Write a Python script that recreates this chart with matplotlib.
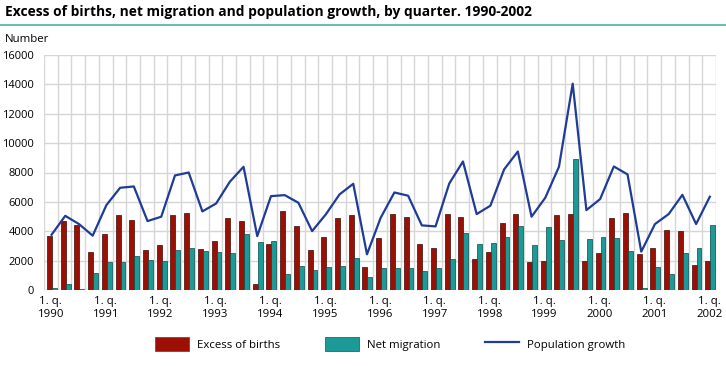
import numpy as np
import matplotlib.pyplot as plt
from matplotlib.lines import Line2D

plt.rcParams["font.family"] = ["Open Sans", "DejaVu Sans"]

years = list(range(1990, 2003))

# quarterly values, 1. q. 1990 - 1. q. 2002
excess_of_births = [
    3670, 4690, 4400, 2560,
    3810, 5080, 4760, 2720,
    3060, 5080, 5210, 2770,
    3310, 4900, 4670, 410,
    3150, 5400, 4330, 2700,
    3600, 4870, 5080, 1540,
    3510, 5190, 4960, 3130,
    2860, 5150, 4960, 2110,
    2560, 4560, 5150, 1880,
    1970, 5080, 5190, 1970,
    2520, 4900, 5240, 2470,
    2860, 4080, 4010, 1680,
    1970,
]
net_migration = [
    120, 390, 70, 1160,
    1930, 1900, 2340, 2020,
    1970, 2740, 2830, 2630,
    2610, 2520, 3810, 3240,
    3310, 1090, 1660, 1340,
    1560, 1610, 2200, 910,
    1470, 1500, 1500, 1290,
    1500, 2130, 3880, 3100,
    3200, 3630, 4350, 3060,
    4280, 3380, 8910, 3470,
    3600, 3540, 2650, 160,
    1590, 1090, 2520, 2830,
    4400,
]
population_growth = [
    3760, 5050, 4490, 3700,
    5780, 6960, 7050, 4690,
    4990, 7800, 8000, 5350,
    5890, 7370, 8390, 3670,
    6390, 6460, 5940, 4010,
    5150, 6510, 7230, 2430,
    4920, 6640, 6420, 4400,
    4330, 7250, 8750, 5170,
    5740, 8210, 9430, 4990,
    6280, 8390, 14050, 5440,
    6190, 8410, 7870, 2610,
    4490, 5170, 6480, 4490,
    6350,
]

n = len(excess_of_births)
x = np.arange(n)

fig = plt.figure(figsize=(7.26, 3.66), dpi=100)
ax = fig.add_axes([44 / 726, 1 - 290 / 366, 672 / 726, 235 / 366])

red = "#9b0f05"
teal = "#1c9a98"
blue = "#1f3c96"

ax.bar(x - 0.1, excess_of_births, width=0.36, color=red,
       edgecolor="#3a0a05", linewidth=0.5, zorder=3)
ax.bar(x + 0.26, net_migration, width=0.36, color=teal,
       edgecolor="#0c4a48", linewidth=0.5, zorder=3)
ax.plot(x + 0.05, population_growth, color=blue, linewidth=1.6, zorder=4)

ax.set_xlim(-0.5, n - 0.5)
ax.set_ylim(0, 16000)
ax.set_yticks(range(0, 16001, 2000))
ax.set_yticklabels([str(v) for v in range(0, 16001, 2000)], fontsize=8)

ax.set_xticks(np.arange(-0.5, n, 1), minor=True)
ax.set_xticks(x[::4])
ax.set_xticklabels([f"1. q.\n{y}" for y in years], fontsize=8.2,
                   linespacing=1.25)
ax.tick_params(axis="both", which="both", length=0, pad=4)
ax.tick_params(axis="y", pad=7)

ax.grid(axis="y", color="#d6d6d6", linewidth=1, zorder=0)
ax.grid(axis="x", which="minor", color="#d6d6d6", linewidth=1, zorder=0)
ax.grid(axis="x", which="major", visible=False)
for s in ax.spines.values():
    s.set_visible(False)

fig.text(5 / 726, 1 - 12 / 366, "Excess of births, net migration and population growth, by quarter. 1990-2002",
         fontsize=9.9, fontweight="bold", va="center", ha="left")
fig.add_artist(Line2D([0, 1], [1 - 25 / 366] * 2, color="#4fb0a6", linewidth=1.2))
fig.text(5 / 726, 1 - 40 / 366, "Number", fontsize=8.2, va="center", ha="left")

handles = [
    plt.Rectangle((0, 0), 1, 1, facecolor=red, edgecolor="#555555", linewidth=0.6),
    plt.Rectangle((0, 0), 1, 1, facecolor=teal, edgecolor="#555555", linewidth=0.6),
    Line2D([], [], color=blue, linewidth=1.6),
]
fig.legend(handles, ["Excess of births", "Net migration", "Population growth"],
           loc="center", bbox_to_anchor=(390 / 726, 1 - 344 / 366), ncol=3,
           frameon=False, fontsize=8.2, handlelength=3.0, handleheight=1.5,
           handletextpad=0.7, columnspacing=3.9)

fig.savefig("out.png", dpi=100)
